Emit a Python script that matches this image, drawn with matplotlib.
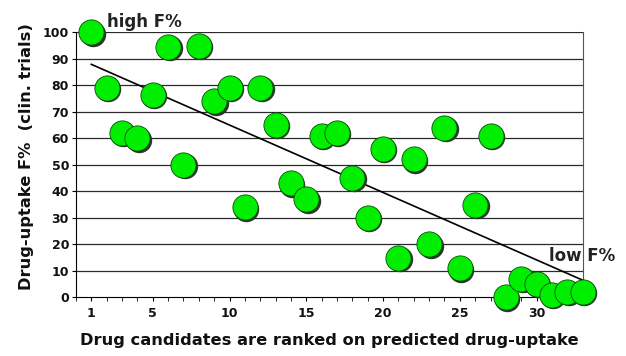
import numpy as np
import matplotlib
matplotlib.use("Agg")
import matplotlib.pyplot as plt
from matplotlib.transforms import offset_copy

# Ranked candidates and their measured F%
rank = np.arange(1, 34)
f_pct = [100, 79, 62, 60, 76.5, 94.5, 50, 95, 74, 79, 34, 79, 65, 43, 37, 61, 62,
         45, 30, 56, 15, 52, 20, 64, 11, 35, 61, 0, 7, 5, 1, 2, 2]
x_ticks = [1, 5, 10, 15, 20, 25, 30]

plt.rcParams['font.family'] = ['DejaVu Sans']
plt.rcParams['font.weight'] = 'bold'

fig = plt.figure(figsize=(6.26, 3.56), dpi=100)
ax = fig.add_axes([0.1214, 0.1649, 0.8094, 0.7444])

# horizontal grid
for g in range(10, 101, 10):
    ax.axhline(g, color='#2a2a2a', lw=0.9, zorder=1)

# trend line
m, b = np.polyfit(rank, f_pct, 1)
ax.plot([1, 33], [m * 1 + b, m * 33 + b], color='black', lw=1.2, zorder=2)

# shadow then dots
shadow = offset_copy(ax.transData, fig=fig, x=1.0, y=-1.0, units='points')
ax.scatter(rank, f_pct, s=335, color='#333333', transform=shadow, zorder=3,
           clip_on=False, linewidths=0)
ax.scatter(rank, f_pct, s=330, color='#00ee00', edgecolor='#0a4a0a', linewidths=0.6,
           zorder=4, clip_on=False)

ax.set_xlim(0, 33)
ax.set_ylim(0, 100)
ax.set_yticks(range(0, 101, 10))
ax.set_xticks(x_ticks)
ax.set_xticks(range(0, 34), minor=True)
ax.tick_params(axis='both', labelsize=9, direction='out', color='black')
ax.tick_params(axis='x', which='both', length=3, pad=4)
ax.tick_params(axis='y', length=3, pad=2)
for lab in ax.get_xticklabels() + ax.get_yticklabels():
    lab.set_fontweight('bold')
    lab.set_color('#111111')

ax.spines['top'].set_visible(False)
ax.spines['right'].set_color('#555555')
ax.spines['left'].set_color('black')
ax.spines['bottom'].set_color('black')

ax.set_xlabel('Drug candidates are ranked on predicted drug-uptake', fontsize=11.7,
              fontweight='bold', labelpad=9, color='#111111')
ax.set_ylabel('Drug-uptake F%  (clin. trials)', fontsize=11.7, fontweight='bold',
              color='#111111')
ax.yaxis.set_label_coords(-0.083, 0.53)

ax.text(2.0, 104, 'high F%', fontsize=12, fontweight='bold', color='#222222',
        ha='left', va='center', clip_on=False)
ax.text(30.8, 15.5, 'low F%', fontsize=12, fontweight='bold', color='#222222',
        ha='left', va='center', clip_on=False)

fig.savefig('out.png', dpi=100)
